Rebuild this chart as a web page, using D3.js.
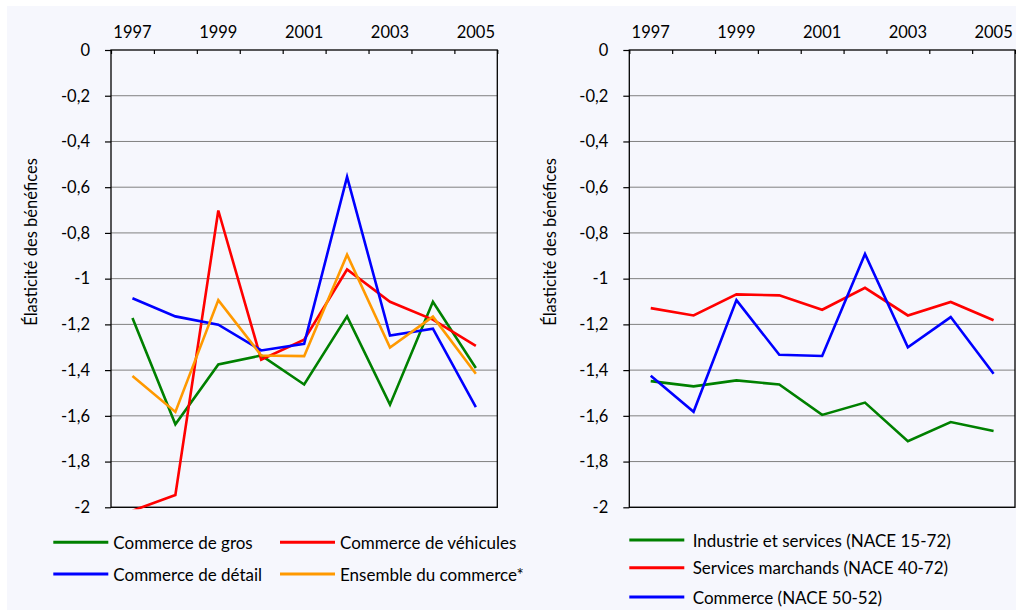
<!DOCTYPE html>
<html>
<head>
<meta charset="utf-8">
<script src="https://cdn.jsdelivr.net/npm/d3@7"></script>
<style>
    body { margin: 0; background: #fff; }
    svg { display: block; font-family: Lato, "Open Sans", sans-serif; }
</style>
</head>
<body>
<div id="chart"></div>
<script>
// Daten
const years = [1997, 1998, 1999, 2000, 2001, 2002, 2003, 2004, 2005];
const yearLabels = [1997, 1999, 2001, 2003, 2005];
const yTicks = [0, -0.2, -0.4, -0.6, -0.8, -1, -1.2, -1.4, -1.6, -1.8, -2];

const gros = [-1.172, -1.637, -1.375, -1.336, -1.463, -1.165, -1.551, -1.101, -1.391];
const vehicules = [-2.015, -1.946, -0.702, -1.354, -1.267, -0.960, -1.101, -1.179, -1.294];
const detail = [-1.086, -1.165, -1.201, -1.314, -1.285, -0.555, -1.249, -1.219, -1.562];
const ensemble = [-1.426, -1.583, -1.094, -1.336, -1.339, -0.895, -1.301, -1.166, -1.416];

const industrie = [-1.448, -1.471, -1.445, -1.463, -1.596, -1.542, -1.711, -1.627, -1.666];
const servicesMarchands = [-1.129, -1.161, -1.069, -1.073, -1.136, -1.040, -1.161, -1.102, -1.182];
const commerce = [-1.425, -1.582, -1.094, -1.333, -1.338, -0.892, -1.300, -1.168, -1.416];

const leftSeries = [
    { name: "Commerce de gros", values: gros, color: "#008000" },
    { name: "Commerce de véhicules", values: vehicules, color: "#ff0000" },
    { name: "Commerce de détail", values: detail, color: "#0000ff" },
    { name: "Ensemble du commerce*", values: ensemble, color: "#ff9900" }
];
const rightSeries = [
    { name: "Industrie et services (NACE 15-72)", values: industrie, color: "#008000" },
    { name: "Services marchands (NACE 40-72)", values: servicesMarchands, color: "#ff0000" },
    { name: "Commerce (NACE 50-52)", values: commerce, color: "#0000ff" }
];

const width = 1016;
const height = 610;

const fr = d3.formatLocale({ decimal: ",", thousands: " ", grouping: [3], currency: ["", " €"], minus: "-" });
const fmt = fr.format(".1~f");

let svg = d3.select("#chart").append("svg")
    .attr("width", width)
    .attr("height", height);

// Hintergrund
svg.append("rect")
    .attr("x", 7).attr("y", 6)
    .attr("width", width - 7).attr("height", height - 6)
    .attr("fill", "#f6f7fd");

function drawPanel(id, left, right, series, titleX, legendRows) {
    let top = 50;
    let bottom = 507.3;

    let xscale = d3.scaleBand()
        .domain(years)
        .range([left, right])
        .padding(0);

    let xedge = d3.scaleLinear()
        .domain([0, years.length])
        .range([left, right]);

    let yscale = d3.scaleLinear()
        .domain([-2, 0])
        .range([bottom, top]);

    let g = svg.append("g").attr("class", id);

    // Gitterlinien
    g.selectAll(".grid").data(yTicks.filter(d => d !== 0)).join("line")
        .attr("class", "grid")
        .attr("x1", left).attr("x2", right)
        .attr("y1", d => yscale(d)).attr("y2", d => yscale(d))
        .attr("stroke", "#808080")
        .attr("stroke-width", 1);

    // y-Achse
    let yAxis = g.append("g")
        .attr("transform", `translate(${left},0)`)
        .call(d3.axisLeft(yscale).tickValues(yTicks).tickFormat(fmt).tickSize(6).tickPadding(15));
    yAxis.select(".domain").remove();
    yAxis.selectAll("line").attr("stroke", "#000").attr("stroke-width", 1.2);
    yAxis.selectAll("text")
        .attr("font-size", 16.5)
        .attr("font-family", "Lato")
        .attr("fill", "#000");

    // obere Achse: Ticks an den Kategoriegrenzen
    let edgeAxis = g.append("g")
        .attr("transform", `translate(0,${top})`)
        .call(d3.axisBottom(xedge).ticks(years.length).tickSize(4).tickFormat(""));
    edgeAxis.select(".domain").remove();
    edgeAxis.selectAll("line").attr("stroke", "#000").attr("stroke-width", 1.2);

    // Jahreszahlen
    let labelAxis = g.append("g")
        .attr("transform", `translate(0,${top})`)
        .call(d3.axisTop(xscale).tickValues(yearLabels).tickSize(0).tickPadding(12));
    labelAxis.select(".domain").remove();
    labelAxis.selectAll("text")
        .attr("font-size", 16.5)
        .attr("font-family", "Lato")
        .attr("fill", "#000");

    // Rahmen
    g.append("rect")
        .attr("x", left).attr("y", top)
        .attr("width", right - left).attr("height", bottom - top)
        .attr("fill", "none")
        .attr("stroke", "#000")
        .attr("stroke-width", 1.3);

    // Clip
    svg.append("clipPath").attr("id", id + "-clip")
        .append("rect")
        .attr("x", left).attr("y", top - 3)
        .attr("width", right - left).attr("height", bottom - top + 5);

    let line = d3.line()
        .x((d, i) => xscale(years[i]) + xscale.bandwidth() / 2)
        .y(d => yscale(d));

    g.append("g").attr("clip-path", `url(#${id}-clip)`)
        .selectAll(".serie").data(series).join("path")
        .attr("class", "serie")
        .attr("d", d => line(d.values))
        .attr("fill", "none")
        .attr("stroke", d => d.color)
        .attr("stroke-width", 2.6)
        .attr("stroke-linejoin", "miter");

    // Achsentitel
    g.append("text")
        .attr("transform", `translate(${titleX},242) rotate(-90)`)
        .attr("text-anchor", "middle")
        .attr("dominant-baseline", "central")
        .attr("font-size", 16.5)
        .attr("fill", "#000")
        .text("Élasticité des bénéfices");

    // Legende
    let leg = g.selectAll(".legend").data(series).join("g")
        .attr("class", "legend")
        .attr("transform", (d, i) => `translate(${legendRows[i][0]},${legendRows[i][1]})`);
    leg.append("line")
        .attr("x1", 0).attr("x2", 55)
        .attr("stroke", d => d.color)
        .attr("stroke-width", 3);
    leg.append("text")
        .attr("x", legendRows[0][2])
        .attr("dominant-baseline", "central")
        .attr("font-size", 17)
        .attr("fill", "#000")
        .text(d => d.name);
}

drawPanel("left", 111, 497.3, leftSeries, 31,
    [[53.3, 542.3, 60], [280, 542.3, 60], [53.3, 574, 60], [280, 574, 60]]);
drawPanel("right", 629.3, 1015, rightSeries, 550,
    [[629.3, 540, 63.4], [629.3, 567.7, 63.4], [629.3, 597, 63.4]]);
</script>
</body>
</html>
